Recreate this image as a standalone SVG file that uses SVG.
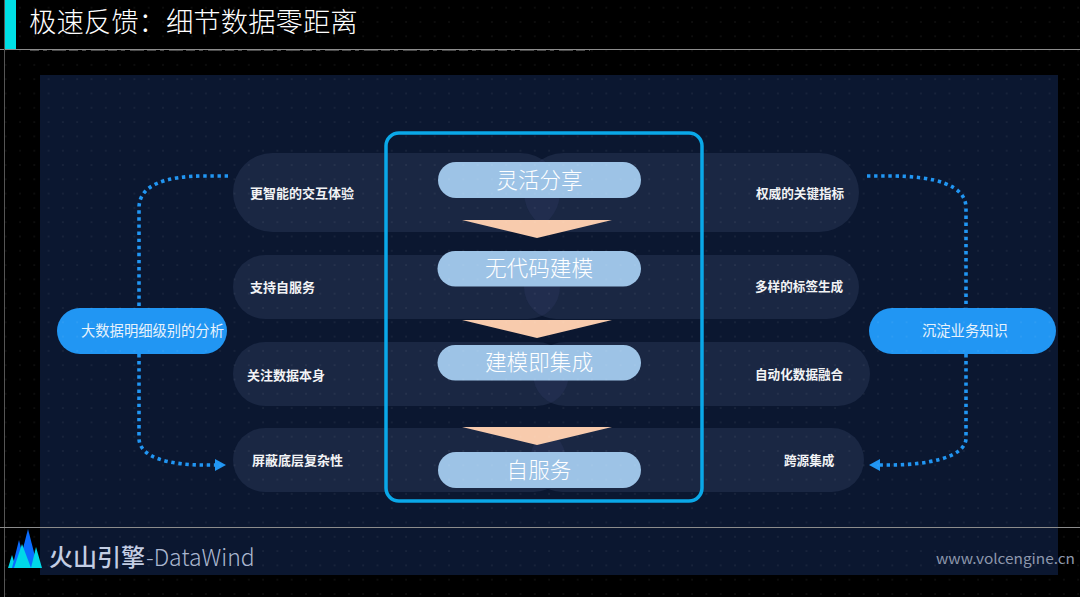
<svg xmlns="http://www.w3.org/2000/svg" width="1080" height="597" viewBox="0 0 1080 597">
<style>
text{font-family:"Noto Sans CJK SC","Noto Sans",sans-serif;fill:#fff}
.band{fill:#1a2743}
.leaf{fill:#212d4e}
.step{fill:#9dc3e6}
.stept{font-size:21.6px;text-anchor:middle;font-weight:300;dominant-baseline:central}
.tri{fill:#f8cbad}
.lab{font-size:13px;font-weight:700;dominant-baseline:central;fill:#f2f3f5}
.labr{font-size:12.600px}
.side{fill:#2196f3}
.sidet{font-size:14.300px;font-weight:400;dominant-baseline:central;fill:#e8f2fb}
.dot{fill:none;stroke:#2196f3;stroke-width:3.600;stroke-dasharray:3.400 3.700}
.rule{stroke:#8c8c8c;stroke-width:1}
</style>
<defs>
<pattern id="dots" x="-1" y="1" width="14.3" height="14.3" patternUnits="userSpaceOnUse"><rect x="6" y="6" width="1.4" height="1.4" fill="#fff" opacity=".09"/></pattern>
<marker id="ah" markerWidth="11" markerHeight="12" refX="1" refY="6" orient="auto" markerUnits="userSpaceOnUse"><path d="M0 0L11 6L0 12Z" fill="#2196f3"/></marker>
<clipPath id="c1"><rect x="233" y="153" width="327" height="79" rx="39.5"/></clipPath>
<clipPath id="c2"><rect x="233" y="255" width="327" height="64" rx="32"/></clipPath>
<clipPath id="c3"><rect x="233" y="342" width="336" height="64" rx="32"/></clipPath>
<clipPath id="c4"><rect x="233" y="428" width="333" height="64" rx="32"/></clipPath>
</defs>
<rect width="1080" height="597" fill="#000"/>
<rect x="40" y="75" width="1018" height="500" fill="#0b1730"/>
<g id="bands">
<rect class="band" x="233" y="153" width="327" height="79" rx="39.5"/><rect class="band" x="524" y="153" width="335" height="79" rx="39.5"/><rect class="leaf" x="524" y="153" width="335" height="79" rx="39.5" clip-path="url(#c1)"/>
<rect class="band" x="233" y="255" width="327" height="64" rx="32"/><rect class="band" x="524" y="255" width="335" height="64" rx="32"/><rect class="leaf" x="524" y="255" width="335" height="64" rx="32" clip-path="url(#c2)"/>
<rect class="band" x="233" y="342" width="336" height="64" rx="32"/><rect class="band" x="533" y="342" width="337" height="64" rx="32"/><rect class="leaf" x="533" y="342" width="337" height="64" rx="32" clip-path="url(#c3)"/>
<rect class="band" x="233" y="428" width="333" height="64" rx="32"/><rect class="band" x="530" y="428" width="334" height="64" rx="32"/><rect class="leaf" x="530" y="428" width="334" height="64" rx="32" clip-path="url(#c4)"/>
</g>
<g id="connectors">
<path class="dot" d="M228 176H205C165 176 139 185 139 208V308"/>
<path class="dot" d="M139 354V438C139 458 170 465 205 465H216" marker-end="url(#ah)"/>
<path class="dot" d="M867 176H890C935 176 966 185 966 208V308"/>
<path class="dot" d="M966 354V438C966 458 925 465 890 465H879" marker-end="url(#ah)"/>
</g>
<g id="node-left"><rect class="side" x="57" y="308" width="170" height="46" rx="23"/><text class="sidet" x="81" y="329.500">大数据明细级别的分析</text></g>
<g id="node-right"><rect class="side" x="869" y="308" width="187" height="46" rx="23"/><text class="sidet" x="922" y="329.500">沉淀业务知识</text></g>
<g id="labels-left">
<text class="lab" x="250" y="192.500">更智能的交互体验</text>
<text class="lab" x="250" y="286">支持自服务</text>
<text class="lab" x="247" y="374">关注数据本身</text>
<text class="lab" x="252" y="459">屏蔽底层复杂性</text>
</g>
<g id="labels-right">
<text class="lab labr" x="756" y="192.500">权威的关键指标</text>
<text class="lab labr" x="755" y="285">多样的标签生成</text>
<text class="lab labr" x="755" y="373">自动化数据融合</text>
<text class="lab labr" x="784" y="459">跨源集成</text>
</g>
<g id="step-1"><rect class="step" x="438" y="162" width="203" height="36" rx="18"/><text class="stept" x="539.500" y="178">灵活分享</text></g>
<polygon class="tri" points="462,220 612,220 537,238"/>
<g id="step-2"><rect class="step" x="437.500" y="251" width="203.500" height="35.500" rx="17.800"/><text class="stept" x="539" y="266.500">无代码建模</text></g>
<polygon class="tri" points="462,320 612,320 537,338"/>
<g id="step-3"><rect class="step" x="437.500" y="345" width="203.500" height="35.500" rx="17.800"/><text class="stept" x="539" y="360.500">建模即集成</text></g>
<polygon class="tri" points="462,427 612,427 537,445"/>
<g id="step-4"><rect class="step" x="438" y="452" width="203" height="36" rx="18"/><text class="stept" x="539" y="468">自服务</text></g>
<rect id="frame" x="386" y="133" width="316" height="368" rx="13" fill="none" stroke="#0aa8e8" stroke-width="3.500"/>
<rect width="1080" height="597" fill="url(#dots)"/>
<g id="header">
<rect x="4" y="0" width="12" height="49" fill="#00e0e6"/>
<line class="rule" x1="0" y1="49.500" x2="1080" y2="49.500"/>
<line x1="30" y1="50.500" x2="590" y2="50.500" stroke="#4a4a4a" stroke-width="1" stroke-dasharray="9 4 4 5 14 3"/>
<line x1="4.500" y1="0" x2="4.500" y2="597" stroke="#555"/>
<line class="rule" x1="0" y1="527.500" x2="1080" y2="527.500"/>
<text x="29" y="32" font-size="27.400" font-weight="300">极速反馈：细节数据零距离</text>
</g>
<g id="logo">
<polygon points="8,568 12,555 16,568" fill="#00d8e8"/>
<polygon points="12,568 19,540 26,568" fill="#0a6cff"/>
<polygon points="18,568 28,529 38,568" fill="#0a6cff"/>
<polygon points="31,568 36,547 42,568" fill="#00d8e8"/>
<polygon points="14,568 22,544 31,568" fill="#00d8e8"/>
<text x="49" y="566" font-size="24" font-weight="500" style="fill:#c3cde3">火山引擎</text>
<text x="146" y="566" font-size="23" font-family="Noto Sans" font-weight="300" style="fill:#aab6cf">-DataWind</text>
<text x="936" y="564" font-size="14" font-family="DejaVu Sans" textLength="139" lengthAdjust="spacingAndGlyphs" style="fill:#8e98ad">www.volcengine.cn</text>
</g>
</svg>
